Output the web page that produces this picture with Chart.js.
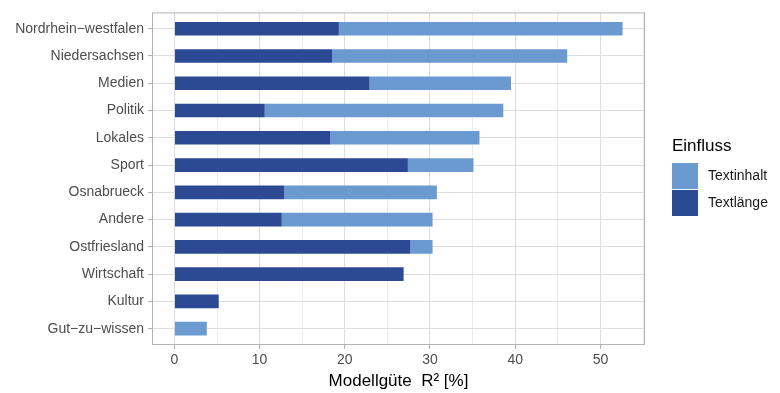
<!DOCTYPE html>
<html>
<head>
<meta charset="utf-8">
<script src="https://cdn.jsdelivr.net/npm/chart.js@4.4.1/dist/chart.umd.min.js"></script>
<style>
  html, body { margin: 0; padding: 0; background: #fff; }
</style>
</head>
<body>
<canvas id="chart" width="780" height="393"></canvas>
<script>
// categories top to bottom
const categories = ['Nordrhein−westfalen', 'Niedersachsen', 'Medien', 'Politik', 'Lokales', 'Sport',
  'Osnabrueck', 'Andere', 'Ostfriesland', 'Wirtschaft', 'Kultur', 'Gut−zu−wissen'];

// R2 share in %, Textlänge is the base of each bar, Textinhalt stacked on top
const textlaenge = [19.3, 18.5, 22.9, 10.6, 18.3, 27.4, 12.9, 12.6, 27.7, 26.9, 5.2, 0.1];
const textinhalt = [33.3, 27.6, 16.6, 28.0, 17.5, 7.7, 17.9, 17.7, 2.6, 0, 0, 3.7];

const xTicks = [0, 5, 10, 15, 20, 25, 30, 35, 40, 45, 50, 55];
const legendTitle = 'Einfluss';
const xTitle = 'Modellgüte  R² [%]';

const colLight = '#6a9acf';
const colDark = '#2c4a94';
const gridCol = '#dedede';
const borderCol = '#b3b3b3';

Chart.defaults.font.family = '"Liberation Sans", Arial, Helvetica, sans-serif';

const toPoints = vals => vals.map((v, i) => ({ x: v, y: i }));

// panel border + legend drawn by hand, ggplot style
const panelPlugin = {
  id: 'panel',
  afterDraw(chart) {
    const { ctx, chartArea: a } = chart;
    ctx.save();
    ctx.strokeStyle = borderCol;
    ctx.lineWidth = 1;
    ctx.strokeRect(a.left + 0.5, a.top + 0.5, a.right - a.left - 1, a.bottom - a.top - 1);

    // legend
    const lx = 672;
    ctx.fillStyle = '#000';
    ctx.font = '17px "Liberation Sans", Arial, sans-serif';
    ctx.textBaseline = 'alphabetic';
    ctx.textAlign = 'left';
    ctx.fillText(legendTitle, lx, 151);
    const items = [chart.data.datasets[1], chart.data.datasets[0]];
    ctx.font = '14px "Liberation Sans", Arial, sans-serif';
    items.forEach((ds, k) => {
      const y = 163 + k * 27;
      ctx.fillStyle = ds.backgroundColor;
      ctx.fillRect(lx, y, 26, 26);
      ctx.fillStyle = '#1a1a1a';
      ctx.textBaseline = 'middle';
      ctx.fillText(ds.label, 708, y + 13);
    });
    ctx.restore();
  }
};

new Chart(document.getElementById('chart'), {
  type: 'bar',
  data: {
    datasets: [
      { label: 'Textlänge', data: toPoints(textlaenge), backgroundColor: colDark },
      { label: 'Textinhalt', data: toPoints(textinhalt), backgroundColor: colLight }
    ]
  },
  options: {
    indexAxis: 'y',
    responsive: false,
    animation: false,
    layout: { padding: { top: 9, right: 135, bottom: 0, left: 0 } },
    datasets: { bar: { barPercentage: 0.5, categoryPercentage: 1, borderWidth: 0, minBarLength: 0 } },
    plugins: { legend: { display: false }, tooltip: { enabled: false } },
    scales: {
      x: {
        type: 'linear',
        stacked: true,
        min: -2.63,
        max: 55.23,
        afterBuildTicks: s => { s.ticks = xTicks.map(v => ({ value: v })); },
        afterFit: s => { s.height = 48; },
        border: { display: false },
        grid: {
          color: gridCol,
          lineWidth: c => (c.tick && c.tick.value % 10 === 0) ? 1.1 : 0.6,
          tickLength: 4,
          tickColor: c => (c.tick && c.tick.value % 10 === 0) ? borderCol : 'rgba(0,0,0,0)'
        },
        ticks: {
          autoSkip: false,
          maxRotation: 0,
          padding: 3,
          color: '#4d4d4d',
          font: { size: 14 },
          callback: v => (v % 10 === 0 ? String(v) : '')
        },
        title: {
          display: true,
          text: xTitle,
          color: '#000',
          font: { size: 17 },
          padding: { top: 0, bottom: 1 }
        }
      },
      y: {
        type: 'linear',
        stacked: true,
        reverse: true,
        offset: false,
        min: -0.6,
        max: 11.6,
        afterBuildTicks: s => { s.ticks = categories.map((c, i) => ({ value: i })); },
        afterFit: s => { s.width = 152; },
        border: { display: false },
        grid: { color: gridCol, lineWidth: 1.1, tickLength: 4, tickColor: borderCol, offset: false },
        ticks: {
          autoSkip: false,
          padding: 4,
          color: '#4d4d4d',
          font: { size: 14 },
          callback: v => categories[v] ?? ''
        }
      }
    }
  },
  plugins: [panelPlugin]
});
</script>
</body>
</html>
